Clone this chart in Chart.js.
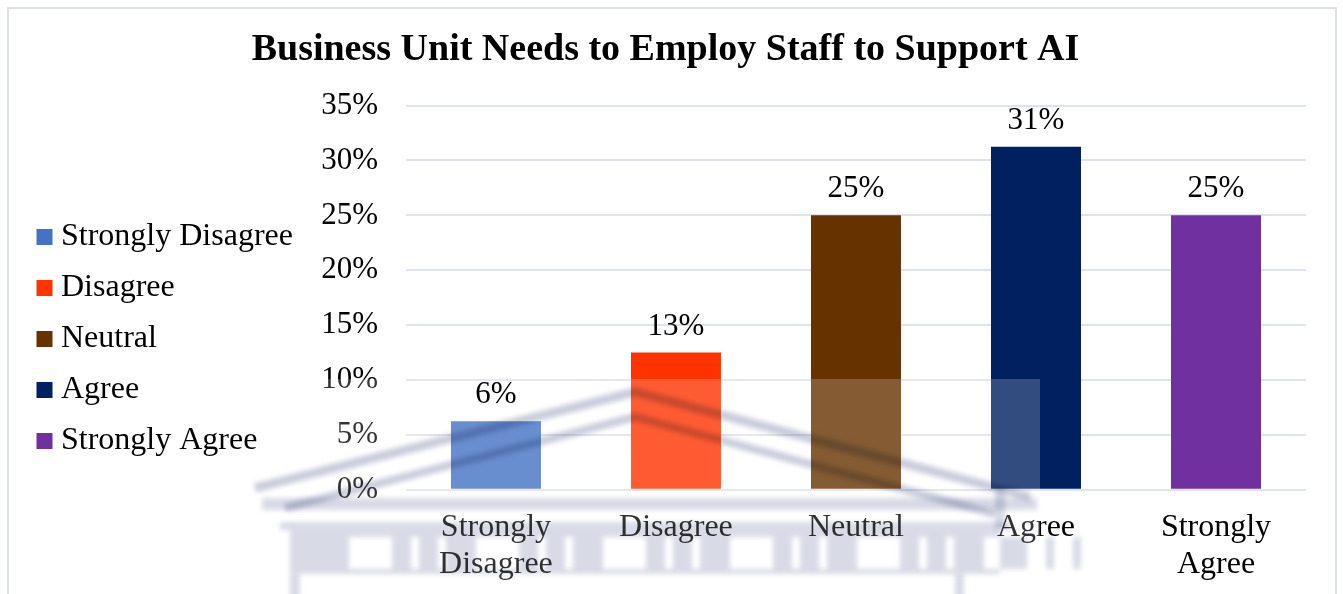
<!DOCTYPE html>
<html>
<head>
<meta charset="utf-8">
<script src="https://cdn.jsdelivr.net/npm/chart.js@4"></script>
<style>
  html, body { margin: 0; padding: 0; background: #fff; }
  #wrap { width: 1343px; height: 594px; }
</style>
</head>
<body>
<div id="wrap"><canvas id="c" width="1343" height="594"></canvas></div>
<script>
// Survey result: share of responses per answer
const chartTitle = 'Business Unit Needs to Employ Staff to Support AI';
const categories = ['Strongly Disagree', 'Disagree', 'Neutral', 'Agree', 'Strongly Agree'];
const axisLabels = [['Strongly', 'Disagree'], ['Disagree'], ['Neutral'], ['Agree'], ['Strongly', 'Agree']];
const shares = [6.25, 12.5, 25, 31.25, 25];
const barColors = ['#4472C4', '#FF3300', '#663300', '#002060', '#7030A0'];
const yTicks = [0, 5, 10, 15, 20, 25, 30, 35];

const serif = '"Liberation Serif", "Times New Roman", serif';

// light frame round the whole figure
const frame = {
  id: 'frame',
  beforeDraw(chart) {
    const ctx = chart.ctx;
    ctx.save();
    ctx.fillStyle = '#fff';
    ctx.fillRect(0, 0, chart.width, chart.height);
    ctx.strokeStyle = '#dde1e8';
    ctx.lineWidth = 2;
    ctx.strokeRect(8, 8, 1328, 620);
    ctx.restore();
  }
};

// faint crest printed over the lower part of the figure
const crest = {
  id: 'crest',
  afterDatasetsDraw(chart) {
    const ctx = chart.ctx;
    ctx.save();
    ctx.fillStyle = 'rgba(255,255,255,0.2)';
    ctx.fillRect(256, 379, 784, 215);
    ctx.filter = 'blur(2.5px)';
    ctx.globalCompositeOperation = 'multiply';
    ctx.lineJoin = 'miter';
    // roof
    ctx.strokeStyle = '#c8cbda';
    ctx.lineWidth = 9;
    ctx.beginPath(); ctx.moveTo(255, 488); ctx.lineTo(635, 392); ctx.lineTo(1030, 497); ctx.stroke();
    ctx.lineWidth = 8;
    ctx.beginPath(); ctx.moveTo(285, 508); ctx.lineTo(635, 417); ctx.lineTo(995, 514); ctx.stroke();
    // cornice
    ctx.fillStyle = '#d8dbe6';
    ctx.fillRect(262, 498, 775, 12);
    ctx.fillRect(280, 522, 730, 8);
    ctx.fillRect(995, 488, 10, 40);
    // colonnade
    ctx.beginPath();
    ctx.rect(290, 530, 710, 44);
    for (let x = 349; x < 990; x += 127) {
      ctx.rect(x + 43, 537, -43, 32);
      ctx.rect(x + 70, 537, -8, 32);
      ctx.rect(x + 97, 537, -8, 32);
    }
    ctx.fill('evenodd');
    ctx.fillRect(290, 574, 10, 30);
    ctx.fillRect(955, 574, 9, 30);
    ctx.restore();
  }
};

// value printed above each bar
const valueLabels = {
  id: 'valueLabels',
  afterDatasetsDraw(chart) {
    const ctx = chart.ctx;
    const meta = chart.getDatasetMeta(0);
    ctx.save();
    ctx.font = '31px ' + serif;
    ctx.fillStyle = '#000';
    ctx.textAlign = 'center';
    ctx.textBaseline = 'alphabetic';
    meta.data.forEach((bar, i) => {
      ctx.fillText(Math.round(shares[i]) + '%', bar.x, bar.y - 18);
    });
    ctx.restore();
  }
};

new Chart(document.getElementById('c'), {
  type: 'bar',
  data: {
    labels: axisLabels,
    datasets: [{
      data: shares,
      backgroundColor: barColors,
      borderWidth: 0,
      categoryPercentage: 1,
      barPercentage: 0.5
    }]
  },
  options: {
    responsive: false,
    animation: false,
    devicePixelRatio: 1,
    layout: { padding: { left: 25, right: 37, top: 10, bottom: -8 } },
    plugins: {
      tooltip: { enabled: false },
      title: {
        display: true,
        text: chartTitle,
        color: '#000',
        font: { family: serif, size: 38, weight: 'bold' },
        padding: { top: 17, bottom: 33 }
      },
      legend: {
        position: 'left',
        onClick: null,
        // empty heading, only used to push the list down
        title: { display: true, text: ' ', font: { size: 10 }, padding: 27 },
        labels: {
          color: '#000',
          font: { family: serif, size: 32 },
          usePointStyle: true,
          pointStyle: 'rect',
          boxWidth: 1,
          boxHeight: 16,
          padding: 19,
          generateLabels: () => categories.map((t, i) => ({
            text: t,
            fillStyle: barColors[i],
            strokeStyle: barColors[i],
            fontColor: '#000',
            lineWidth: 0,
            pointStyle: 'rect',
            hidden: false,
            index: i
          }))
        }
      }
    },
    scales: {
      x: {
        z: 1,
        grid: { display: false, drawTicks: false },
        border: { display: false },
        ticks: {
          color: '#000',
          padding: 19,
          maxRotation: 0,
          font: { family: serif, size: 32, lineHeight: 1.16 }
        }
      },
      y: {
        min: 0,
        max: 35,
        afterBuildTicks: (scale) => { scale.ticks = yTicks.map(v => ({ value: v })); },
        afterFit: (scale) => { scale.width = 103; },
        grid: { color: '#dfe3ea', lineWidth: 2, drawTicks: false },
        border: { display: false },
        ticks: {
          color: '#000',
          padding: 28,
          font: { family: serif, size: 31 },
          callback: (v) => v + '%'
        }
      }
    }
  },
  plugins: [frame, crest, valueLabels]
});
</script>
</body>
</html>
